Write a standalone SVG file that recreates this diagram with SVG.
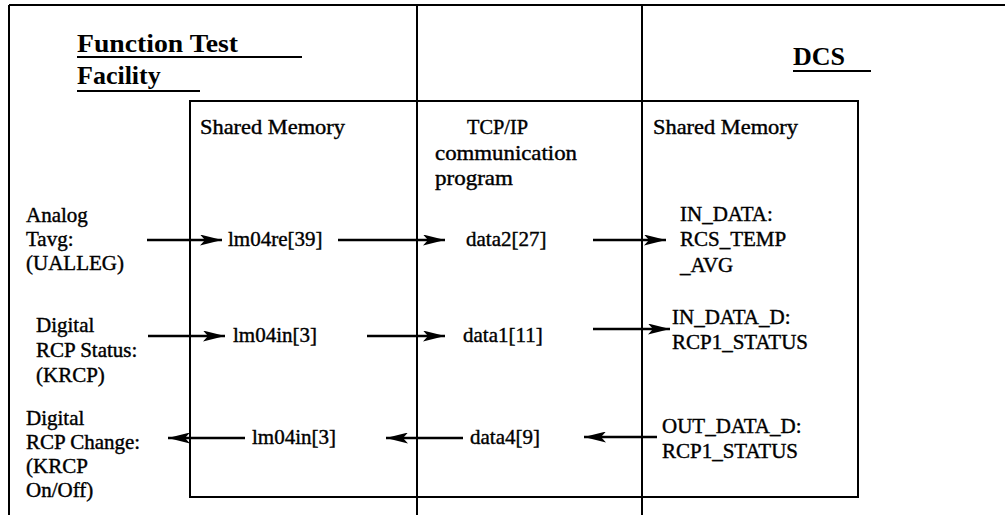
<svg xmlns="http://www.w3.org/2000/svg" width="1005" height="515" viewBox="0 0 1005 515">
<style>
.frame{stroke:#000;stroke-width:2;fill:none}
.t{font-family:"Liberation Serif","Times New Roman",serif;font-size:21px;fill:#000;stroke:#000;stroke-width:0.4}
.h{font-family:"Liberation Serif","Times New Roman",serif;font-size:26px;font-weight:bold;fill:#000}
.ul{stroke:#000;stroke-width:2}
.c{stroke:#000;stroke-width:2.5;fill:none}
</style>
<defs>
<marker id="ah" viewBox="0 0 22 11" refX="22" refY="5.5" markerWidth="22" markerHeight="11" markerUnits="userSpaceOnUse" orient="auto">
<path d="M0,0 L22,5.5 L0,11 L5,5.5 Z" fill="#000"/>
</marker>
</defs>
<rect width="1005" height="515" fill="#fff"/>
<g id="frame">
<line class="frame" x1="9" y1="5" x2="1005" y2="5"/>
<line class="frame" x1="9" y1="5" x2="9" y2="515"/>
<line class="frame" x1="417" y1="5" x2="417" y2="515"/>
<line class="frame" x1="642" y1="5" x2="642" y2="515"/>
</g>
<g id="inner-box">
<rect class="frame" x="190" y="101" width="668" height="396"/>
</g>
<g id="title-ftf">
<text class="h" x="77" y="52" textLength="161" lengthAdjust="spacingAndGlyphs">Function Test</text>
<line class="ul" x1="77" y1="57" x2="302" y2="57"/>
<text class="h" x="77" y="84">Facility</text>
<line class="ul" x1="77" y1="91" x2="200" y2="91"/>
</g>
<g id="title-dcs">
<text class="h" x="793" y="65">DCS</text>
<line class="ul" x1="793" y1="71" x2="871" y2="71"/>
</g>
<g id="shared-memory-ftf">
<text class="t" x="200" y="134" textLength="145" lengthAdjust="spacingAndGlyphs">Shared Memory</text>
</g>
<g id="tcpip">
<text class="t" x="467" y="134" textLength="61" lengthAdjust="spacingAndGlyphs">TCP/IP</text>
<text class="t" x="435" y="160" textLength="142" lengthAdjust="spacingAndGlyphs">communication</text>
<text class="t" x="435" y="185" textLength="78" lengthAdjust="spacingAndGlyphs">program</text>
</g>
<g id="shared-memory-dcs">
<text class="t" x="653" y="134" textLength="145" lengthAdjust="spacingAndGlyphs">Shared Memory</text>
</g>
<g id="src-analog">
<text class="t" x="26" y="222">Analog</text>
<text class="t" x="26" y="246">Tavg:</text>
<text class="t" x="26" y="270">(UALLEG)</text>
</g>
<g id="src-digital-status">
<text class="t" x="36" y="332">Digital</text>
<text class="t" x="36" y="357">RCP Status:</text>
<text class="t" x="36" y="382">(KRCP)</text>
</g>
<g id="dst-digital-change">
<text class="t" x="26" y="425">Digital</text>
<text class="t" x="26" y="449">RCP Change:</text>
<text class="t" x="26" y="473">(KRCP</text>
<text class="t" x="26" y="497">On/Off)</text>
</g>
<g id="lm04re39"><text class="t" x="228" y="246">lm04re[39]</text></g>
<g id="lm04in3-a"><text class="t" x="233" y="342">lm04in[3]</text></g>
<g id="lm04in3-b"><text class="t" x="252" y="444">lm04in[3]</text></g>
<g id="data2-27"><text class="t" x="466" y="246">data2[27]</text></g>
<g id="data1-11"><text class="t" x="463" y="342">data1[11]</text></g>
<g id="data4-9"><text class="t" x="470" y="444">data4[9]</text></g>
<g id="in-data">
<text class="t" x="680" y="221">IN_DATA:</text>
<text class="t" x="680" y="246">RCS_TEMP</text>
<text class="t" x="680" y="272">_AVG</text>
</g>
<g id="in-data-d">
<text class="t" x="672" y="324">IN_DATA_D:</text>
<text class="t" x="672" y="349">RCP1_STATUS</text>
</g>
<g id="out-data-d">
<text class="t" x="662" y="433">OUT_DATA_D:</text>
<text class="t" x="662" y="458">RCP1_STATUS</text>
</g>
<g id="connectors">
<line class="c" x1="147" y1="240" x2="222" y2="240" marker-end="url(#ah)"/>
<line class="c" x1="338" y1="240" x2="445" y2="240" marker-end="url(#ah)"/>
<line class="c" x1="593" y1="240" x2="666" y2="240" marker-end="url(#ah)"/>
<line class="c" x1="148" y1="336" x2="225" y2="336" marker-end="url(#ah)"/>
<line class="c" x1="367" y1="336" x2="445" y2="336" marker-end="url(#ah)"/>
<line class="c" x1="593" y1="329" x2="670" y2="329" marker-end="url(#ah)"/>
<line class="c" x1="245" y1="438" x2="168" y2="438" marker-end="url(#ah)"/>
<line class="c" x1="463" y1="438" x2="386" y2="438" marker-end="url(#ah)"/>
<line class="c" x1="657" y1="437" x2="584" y2="437" marker-end="url(#ah)"/>
</g>
</svg>
